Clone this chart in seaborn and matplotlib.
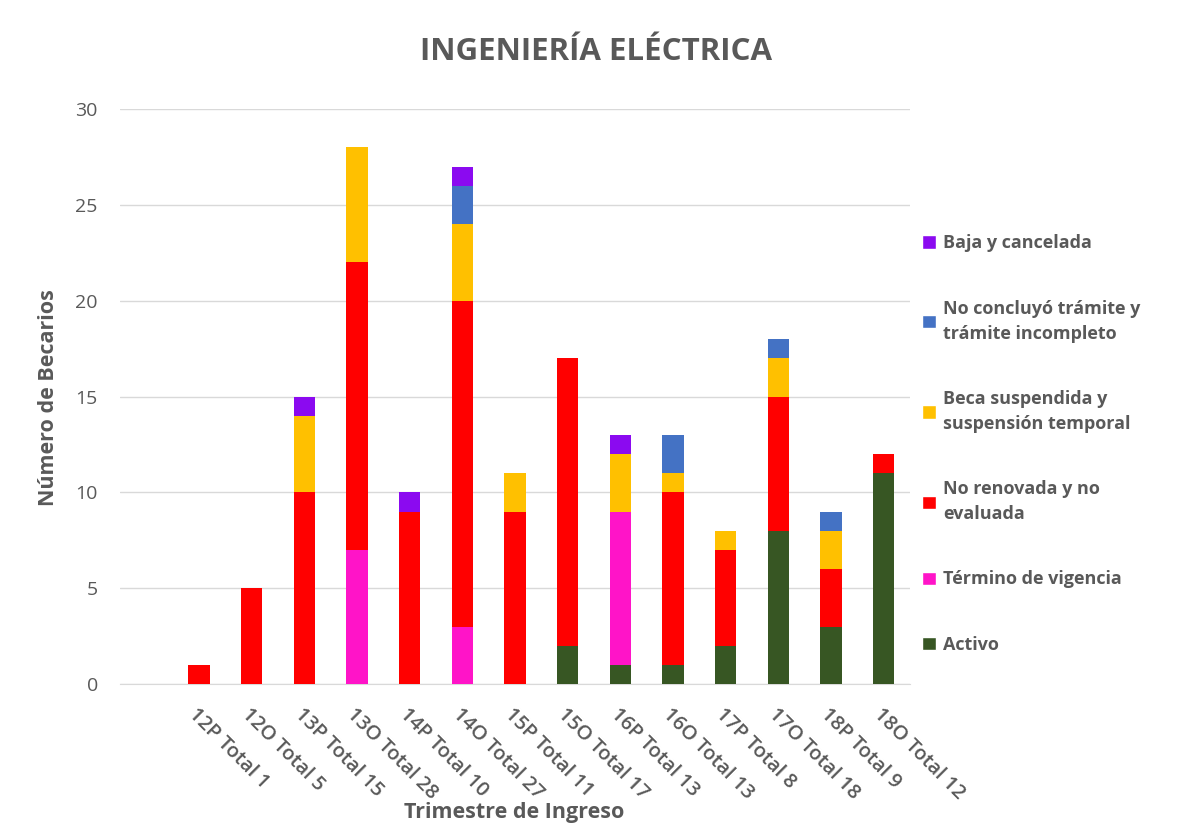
import pandas as pd
import seaborn as sns
import matplotlib.pyplot as plt
from matplotlib.patches import Patch

categorias = ['12P Total 1', '12O Total 5', '13P Total 15', '13O Total 28', '14P Total 10',
              '14O Total 27', '15P Total 11', '15O Total 17', '16P Total 13', '16O Total 13',
              '17P Total 8', '17O Total 18', '18P Total 9', '18O Total 12']

# bottom to top
activo = [0, 0, 0, 0, 0, 0, 0, 2, 1, 1, 2, 8, 3, 11]
termino = [0, 0, 0, 7, 0, 3, 0, 0, 8, 0, 0, 0, 0, 0]
no_renovada = [1, 5, 10, 15, 9, 17, 9, 15, 0, 9, 5, 7, 3, 1]
suspendida = [0, 0, 4, 6, 0, 4, 2, 0, 3, 1, 1, 2, 2, 0]
no_concluyo = [0, 0, 0, 0, 0, 2, 0, 0, 0, 2, 0, 1, 1, 0]
baja = [0, 0, 1, 0, 1, 1, 0, 0, 1, 0, 0, 0, 0, 0]

series = ['Activo', 'Término de vigencia', 'No renovada y no\nevaluada',
          'Beca suspendida y\nsuspensión temporal', 'No concluyó trámite y\ntrámite incompleto',
          'Baja y cancelada']
colores = ['#375623', '#FF14C8', '#FF0000', '#FFC000', '#4472C4', '#8B0AF0']

df = pd.DataFrame({'Trimestre': categorias, 'Activo': activo, 'Termino': termino,
                   'NoRenovada': no_renovada, 'Suspendida': suspendida,
                   'NoConcluyo': no_concluyo, 'Baja': baja})
capas = ['Activo', 'Termino', 'NoRenovada', 'Suspendida', 'NoConcluyo', 'Baja']
acum = df[capas].cumsum(axis=1)

sns.set_style('white')
plt.rcParams['font.family'] = ['Open Sans', 'DejaVu Sans']
gris = '#595959'

fig = plt.figure(figsize=(11.8, 8.31), dpi=100)
ax = fig.add_axes([120 / 1180, 1 - 684 / 831, 790 / 1180, 575 / 831])

# paint cumulative totals from the top layer down
for capa, color in reversed(list(zip(capas, colores))):
    sns.barplot(x=df['Trimestre'], y=acum[capa], color=color, width=0.4,
                saturation=1, linewidth=0, edgecolor='none', ax=ax, zorder=3)

ax.set_xlim(-1.5, len(categorias) - 0.5)
ax.set_ylim(0, 30)
ax.set_yticks(range(0, 31, 5))
ax.grid(axis='y', color='#D9D9D9', linewidth=1, zorder=0)
for s in ['top', 'right', 'left']:
    ax.spines[s].set_visible(False)
ax.spines['bottom'].set_color('#D9D9D9')
ax.tick_params(axis='both', length=0, colors=gris)
ax.tick_params(axis='y', pad=16, labelsize=14)
ax.tick_params(axis='x', pad=15, labelsize=14.5)
plt.setp(ax.get_xticklabels(), rotation=-45, ha='left', va='top',
         rotation_mode='anchor', fontweight='semibold')

ax.set_xlabel('Trimestre de Ingreso', fontsize=15.5, fontweight='bold', color=gris)
ax.xaxis.set_label_coords(0.499, -0.224)
ax.xaxis.label.set_va('center')
ax.set_ylabel('Número de Becarios', fontsize=15.5, fontweight='bold', color=gris)
ax.yaxis.set_label_coords(-0.091, 0.499)
ax.yaxis.label.set_va('center')
fig.text(0.505, 0.938, 'INGENIERÍA ELÉCTRICA', ha='center', va='center',
         fontsize=22.5, fontweight='bold', color=gris)

handles = [Patch(facecolor=c) for c in colores]
leg = fig.legend(handles[::-1], series[::-1], loc='upper left',
                 bbox_to_anchor=(906 / 1180, 1 - 218 / 831), frameon=False,
                 handlelength=0.75, handleheight=0.75, handletextpad=0.4,
                 labelspacing=2.62, prop={'size': 13, 'weight': 'bold'})
for t in leg.get_texts():
    t.set_color(gris)
    t.set_linespacing(1.5)

fig.savefig('out.png', dpi=100)
